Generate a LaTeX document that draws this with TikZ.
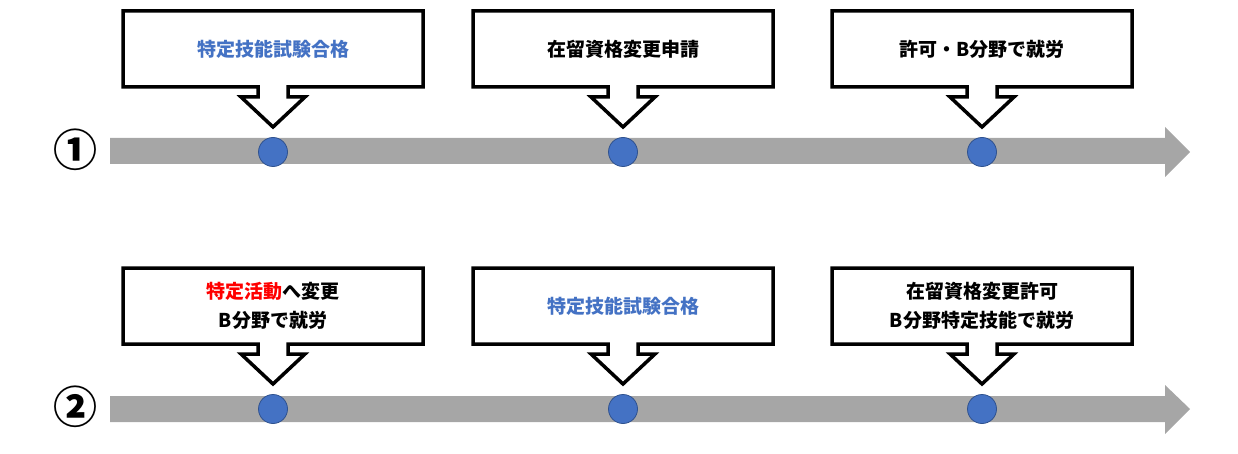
\documentclass[tikz,border=0pt]{standalone}
\usepackage{fontspec}
\setmainfont{Noto Sans CJK JP}
\definecolor{barGray}{HTML}{A6A6A6}
\definecolor{dotBlue}{HTML}{4472C4}
\definecolor{dotEdge}{HTML}{2F528F}
\tikzset{
  dot/.style={circle, fill=dotBlue, draw=dotEdge, line width=0.8pt, minimum width=29pt, inner sep=0pt},
  label/.style={align=center, font=\fontsize{19}{29}\selectfont\bfseries},
  pics/callout/.style={code={
    \draw[line width=3.5pt, fill=white, line join=miter]
      (-150,-138) -- (150,-138) -- (150,-62) -- (15,-62) -- (15,-52) -- (32,-52)
      -- (0,-22) -- (-32,-52) -- (-15,-52) -- (-15,-62) -- (-150,-62) -- cycle;
  }}
}
\begin{document}
\begin{tikzpicture}[x=1pt, y=-1pt]
    \useasboundingbox (0,0) rectangle (1238,454);

    % timeline 1
    \fill[barGray] (110,138) -- (1165,138) -- (1165,127) -- (1190,152)
      -- (1165,177) -- (1165,164) -- (110,164) -- cycle;
    \node[font=\fontsize{44}{44}\selectfont\bfseries] (num1) at (75,150) {①};

    \pic at (273,149) {callout};
    \node[label, text=dotBlue] (exam1) at (273,49) {特定技能試験合格};
    \node[dot] (d11) at (273,152) {};

    \pic at (623,149) {callout};
    \node[label] (apply1) at (623,49) {在留資格変更申請};
    \node[dot] (d12) at (623,152) {};

    \pic at (982,149) {callout};
    \node[label] (work1) at (982,49) {許可・B分野で就労};
    \node[dot] (d13) at (982,152) {};

    % timeline 2
    \fill[barGray] (110,396) -- (1165,396) -- (1165,385) -- (1190,409)
      -- (1165,434) -- (1165,422) -- (110,422) -- cycle;
    \node[font=\fontsize{44}{44}\selectfont\bfseries] (num2) at (75,407) {②};

    \pic at (273,406) {callout};
    \node[label] (work2) at (273,306) {\textcolor{red}{特定活動}へ変更\\B分野で就労};
    \node[dot] (d21) at (273,409) {};

    \pic at (623,406) {callout};
    \node[label, text=dotBlue] (exam2) at (623,306) {特定技能試験合格};
    \node[dot] (d22) at (623,409) {};

    \pic at (982,406) {callout};
    \node[label] (perm2) at (982,306) {在留資格変更許可\\B分野特定技能で就労};
    \node[dot] (d23) at (982,409) {};
\end{tikzpicture}
\end{document}
